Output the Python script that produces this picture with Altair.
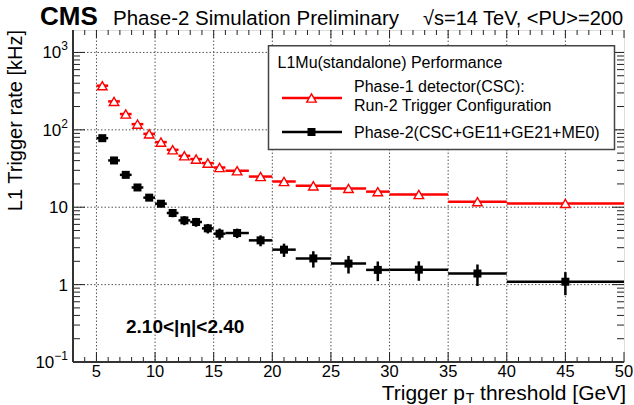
import altair as alt
import pandas as pd

# ---------------- data ----------------
bin_lo = [5, 6, 7, 8, 9, 10, 11, 12, 13, 14, 15, 16, 18, 20, 22, 25, 28, 30, 35, 40]
bin_hi = [6, 7, 8, 9, 10, 11, 12, 13, 14, 15, 16, 18, 20, 22, 25, 28, 30, 35, 40, 50]
pt_center = [5.5, 6.5, 7.5, 8.5, 9.5, 10.5, 11.5, 12.5, 13.5, 14.5, 15.5,
             17, 19, 21, 23.5, 26.5, 29, 32.5, 37.5, 45]
red_rate = [372, 233, 160, 118.5, 88.8, 69.4, 55.2, 46.2, 41.9, 37.2, 32.6,
            29.6, 24.9, 21.5, 18.9, 17.5, 15.9, 14.6, 11.8, 11.2]
black_rate = [78, 40.2, 26.2, 18.0, 13.3, 11.1, 8.42, 6.76, 6.44, 5.33, 4.55,
              4.64, 3.73, 2.83, 2.18, 1.87, 1.55, 1.56, 1.39, 1.09]
black_err = [2.8, 2.0, 1.6, 1.4, 1.2, 1.1, 1.0, 0.9, 0.85, 0.75, 0.75,
             0.65, 0.6, 0.55, 0.52, 0.48, 0.44, 0.44, 0.43, 0.36]

x_major = [5, 10, 15, 20, 25, 30, 35, 40, 45, 50]
x_major_labels = ["5", "10", "15", "20", "25", "30", "35", "40", "45", "50"]
x_minor = [v for v in range(4, 50) if v % 5 != 0]
y_major = [0.1, 1, 10, 100, 1000]
y_label_base = ["10", "1", "10", "10", "10"]
y_label_sup = ["\u22121", "", "", "2", "3"]
y_grid = [1, 10, 100, 1000]
y_minor = [round(m * 10 ** e, 6) for e in range(-1, 4) for m in range(2, 10) if m * 10 ** e < 1950]

series_red = "Phase-1 detector(CSC):"
series_red2 = "Run-2 Trigger Configuration"
series_black = "Phase-2(CSC+GE11+GE21+ME0)"
legend_header = "L1Mu(standalone) Performance"

FONT = "Liberation Sans"
W, H = 551, 332
xs = alt.Scale(domain=[3, 50], nice=False, zero=False)
ys = alt.Scale(type="log", domain=[0.1, 1950], nice=False)

# Arial / Liberation Sans advance widths (per 1000 em) for manual text layout
adv = {"T": 611, "r": 333, "i": 222, "g": 556, "e": 556, " ": 278, "p": 556, "t": 278,
       "h": 556, "s": 500, "o": 556, "l": 222, "d": 556, "[": 278, "G": 778, "V": 667,
       "]": 278, "0": 556, "1": 556, "2": 556, "3": 556, "\u2212": 584}
def width(s, size):
    return sum(adv[c] for c in s) * size / 1000.0

df_red = pd.DataFrame(dict(x=pt_center, lo=bin_lo, hi=bin_hi, y=red_rate))
df_blk = pd.DataFrame(dict(x=pt_center, lo=bin_lo, hi=bin_hi, y=black_rate,
                           ylo=[r - e for r, e in zip(black_rate, black_err)],
                           yhi=[r + e for r, e in zip(black_rate, black_err)]))

X = lambda f: alt.X(f, scale=xs, axis=None)
Y = lambda f: alt.Y(f, scale=ys, axis=None)

layers = []

# dotted grid
layers.append(alt.Chart(pd.DataFrame({"v": x_major[:-1]})).mark_rule(
    color="#555", strokeWidth=1, strokeDash=[1.5, 2]).encode(
    x=X("v:Q"), y=alt.value(0), y2=alt.value(H)))
layers.append(alt.Chart(pd.DataFrame({"v": y_grid})).mark_rule(
    color="#555", strokeWidth=1, strokeDash=[1.5, 2]).encode(
    y=Y("v:Q"), x=alt.value(0), x2=alt.value(W)))

# black horizontal bars
layers.append(alt.Chart(df_blk).mark_rule(color="black", strokeWidth=2.5).encode(
    x=X("lo:Q"), x2="hi:Q", y=Y("y:Q")))
# black vertical bars
layers.append(alt.Chart(df_blk).mark_rule(color="black", strokeWidth=2.5).encode(
    x=X("x:Q"), y=Y("ylo:Q"), y2="yhi:Q"))
# red horizontal bars
layers.append(alt.Chart(df_red).mark_rule(color="red", strokeWidth=2.5).encode(
    x=X("lo:Q"), x2="hi:Q", y=Y("y:Q")))
# markers
layers.append(alt.Chart(df_red).mark_point(shape="triangle-up", size=90, filled=True,
                                           fill="white", stroke="red", strokeWidth=1.4,
                                           opacity=1).encode(x=X("x:Q"), y=Y("y:Q")))
layers.append(alt.Chart(df_blk).mark_square(size=64, color="black", opacity=1).encode(
    x=X("x:Q"), y=Y("y:Q")))

# ROOT-style inner ticks
def xticks(vals, y1, y2):
    return alt.Chart(pd.DataFrame({"v": vals})).mark_rule(color="#222", strokeWidth=1).encode(
        x=X("v:Q"), y=alt.value(y1), y2=alt.value(y2))

def yticks(vals, x1, x2):
    return alt.Chart(pd.DataFrame({"v": vals})).mark_rule(color="#222", strokeWidth=1).encode(
        y=Y("v:Q"), x=alt.value(x1), x2=alt.value(x2))

layers += [xticks(x_major, H, H - 10), xticks(x_minor, H, H - 5),
           xticks(x_major, 0, 8), xticks(x_minor, 0, 5),
           yticks(y_major, 0, 12), yticks(y_minor, 0, 7),
           yticks(y_major, W, W - 12), yticks(y_minor, W, W - 7)]

# thicker left / bottom axis lines
one = pd.DataFrame({"a": [0]})
layers.append(alt.Chart(one).mark_rule(color="#333", strokeWidth=2).encode(
    x=alt.value(0), y=alt.value(0), y2=alt.value(H)))
layers.append(alt.Chart(one).mark_rule(color="#333", strokeWidth=2).encode(
    x=alt.value(0), x2=alt.value(W), y=alt.value(H)))

# tick labels
XLBL = 16.5
LBL = 17
SUP = 12
layers.append(alt.Chart(pd.DataFrame({"v": x_major, "t": x_major_labels})).mark_text(
    font=FONT, fontSize=XLBL, baseline="top", align="center", color="black").encode(
    x=X("v:Q"), y=alt.value(H + 2), text="t:N"))

lab_right = -5
ylab = pd.DataFrame({
    "v": y_major, "base": y_label_base, "sup": y_label_sup,
    "bx": [lab_right - width(s, SUP) for s in y_label_sup],
})
layers.append(alt.Chart(ylab).mark_text(font=FONT, fontSize=LBL, baseline="middle",
                                        align="right", color="black", dy=1).encode(
    y=Y("v:Q"), x=alt.X("bx:Q", scale=None), text="base:N"))
layers.append(alt.Chart(ylab).mark_text(font=FONT, fontSize=SUP, baseline="middle",
                                        align="left", color="black", dy=-6).encode(
    y=Y("v:Q"), x=alt.X("bx:Q", scale=None), text="sup:N"))

# legend
layers.append(alt.Chart(one).mark_rect(fill="white", stroke="#444", strokeWidth=1.5).encode(
    x=alt.value(195.5), x2=alt.value(541.5), y=alt.value(15.7), y2=alt.value(119.4)))
layers.append(alt.Chart(one).mark_rule(color="red", strokeWidth=2.5).encode(
    x=alt.value(209), x2=alt.value(269), y=alt.value(68)))
layers.append(alt.Chart(one).mark_point(shape="triangle-up", size=90, filled=True, fill="white",
                                        stroke="red", strokeWidth=1.4, opacity=1).encode(
    x=alt.value(238.5), y=alt.value(68)))
layers.append(alt.Chart(one).mark_rule(color="black", strokeWidth=2.5).encode(
    x=alt.value(209), x2=alt.value(269), y=alt.value(102)))
layers.append(alt.Chart(one).mark_square(size=64, color="black", opacity=1).encode(
    x=alt.value(238.5), y=alt.value(102)))


def text(txt, x, y, size, weight="normal", align="left", angle=0, baseline="alphabetic"):
    return alt.Chart(one).mark_text(text=txt, font=FONT, fontSize=size, fontWeight=weight,
                                    align=align, angle=angle, baseline=baseline,
                                    color="black").encode(x=alt.value(x), y=alt.value(y))

layers.append(text(legend_header, 204.5, 37.6, 16))
layers.append(text(series_red, 281, 61.5, 16))
layers.append(text(series_red2, 281, 81.4, 16))
layers.append(text(series_black, 281, 107.6, 16))

# titles
layers.append(text("CMS", -33, -5, 26, weight="bold"))
layers.append(text("Phase-2 Simulation Preliminary", 40, -5, 20.5))
layers.append(text("\u221as=14 TeV, <PU>=200", 550, -5, 20, align="right"))
layers.append(text("2.10<|\u03b7|<2.40", 53, 303, 19, weight="bold"))
layers.append(text("L1 Trigger rate [kHz]", -57, 0, 20, align="right", angle=270, baseline="middle"))

# x title with subscript T
xt_size, sub_size = 21, 14
part1, part2, part3 = "Trigger p", "T", "threshold [GeV]"
x_end = 553
base_y = 370
x3 = x_end - width(part3, xt_size)
x2 = x3 - width(" ", xt_size) - width(part2, sub_size)
x1 = x2 - width(part1, xt_size)
layers.append(text(part1, x1, base_y, xt_size))
layers.append(text(part2, x2, base_y + 3, sub_size))
layers.append(text(part3, x3, base_y, xt_size))

chart = alt.layer(*layers).properties(
    width=W, height=H,
    autosize=alt.AutoSizeParams(type="none"),
    padding={"left": 73, "top": 30, "right": 10, "bottom": 43},
    background="white",
).configure_view(stroke="#222", strokeWidth=1.5).configure(font=FONT)

chart.save("out.html", embed_options={"renderer": "svg", "actions": False})
